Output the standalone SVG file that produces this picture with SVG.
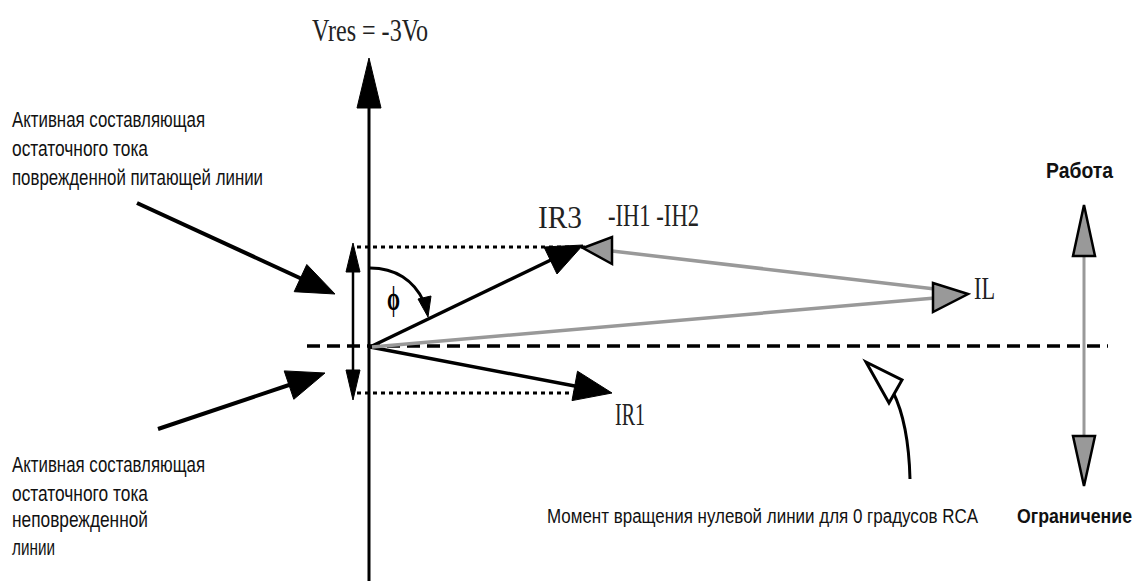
<svg xmlns="http://www.w3.org/2000/svg" width="1136" height="581" viewBox="0 0 1136 581">
<style>
.serif{font-family:"Liberation Serif","Times New Roman",serif;font-size:32px;fill:#222}
.sans{font-family:"Liberation Sans",Arial,sans-serif;font-size:17px;fill:#111}
.bold{font-weight:bold}
.blk{stroke:#000;fill:none;stroke-width:3.5}
.gry{stroke:#999;fill:none;stroke-width:3.5}
.head{fill:#000;stroke:#000;stroke-width:1}
.ghead{fill:#999;stroke:#000;stroke-width:2.5;stroke-linejoin:miter}
.dash{stroke:#000;stroke-width:3.5;stroke-dasharray:13 7;fill:none}
.dot{stroke:#000;stroke-width:3;stroke-dasharray:4 4;fill:none}
</style>
<rect width="1136" height="581" fill="#fff"/>

<g id="connectors">
  <line class="dash" x1="307" y1="346" x2="1108" y2="346"/>
  <line class="dot" x1="357" y1="247" x2="592" y2="247"/>
  <line class="dot" x1="357" y1="393" x2="576" y2="393"/>
  <line class="blk" x1="369" y1="100" x2="369" y2="581" style="stroke-width:3"/>
  <polygon class="head" points="369,58 357,108 381,108"/>
  <line class="blk" x1="353" y1="266" x2="353" y2="376" style="stroke-width:2.5"/>
  <polygon class="head" points="353,243 346,272 360,272"/>
  <polygon class="head" points="353,400 346,370 360,370"/>
  <line class="blk" x1="370" y1="347" x2="555" y2="258"/>
  <polygon class="head" points="583,245 557,274 544,247"/>
  <line class="blk" x1="370" y1="347" x2="580" y2="387"/>
  <polygon class="head" points="612,393 572,400.6 577.5,371.2"/>
  <line class="gry" x1="372" y1="347" x2="935" y2="298"/>
  <line class="gry" x1="612" y1="251" x2="935" y2="289"/>
  <polygon class="ghead" points="583,248 612,237 612,264"/>
  <polygon class="ghead" points="968,294 933,283 933,312"/>
  <path class="blk" d="M370,268 C395,268 414,280 424,302" style="stroke-width:3"/>
  <polygon class="head" points="428,317 418,299 431,296"/>
  <line class="blk" x1="137" y1="203" x2="302" y2="279" style="stroke-width:4"/>
  <polygon class="head" points="335,294 294.2,291.7 306.8,264.5"/>
  <line class="blk" x1="158" y1="429" x2="292" y2="384" style="stroke-width:4"/>
  <polygon class="head" points="325,373 293.8,399.3 284.2,370.9"/>
  <path class="blk" d="M910,479 C909,440 903,412 893,392" style="stroke-width:3"/>
  <polygon points="866,362 902,380 889,403" fill="#fff" stroke="#000" stroke-width="3"/>
  <line class="gry" x1="1084" y1="256" x2="1084" y2="436" style="stroke-width:3"/>
  <polygon class="ghead" points="1084,205 1073,256 1095,256"/>
  <polygon class="ghead" points="1084,486 1073,436 1095,436"/>
</g>

<g id="vres"><text class="serif" transform="translate(312,41) scale(1,1.2)" style="font-size:27px" textLength="116" lengthAdjust="spacingAndGlyphs">Vres = -3Vo</text></g>
<g id="ir3"><text class="serif" transform="translate(538,228) scale(1,1.3)" style="font-size:24px" textLength="44" lengthAdjust="spacingAndGlyphs">IR3</text></g>
<g id="ih"><text class="serif" transform="translate(608,226) scale(1,1.3)" style="font-size:24px" textLength="91" lengthAdjust="spacingAndGlyphs">-IH1 -IH2</text></g>
<g id="il"><text class="serif" transform="translate(974,299) scale(1,1.3)" style="font-size:24px" textLength="21" lengthAdjust="spacingAndGlyphs">IL</text></g>
<g id="ir1"><text class="serif" transform="translate(615,425) scale(1,1.3)" style="font-size:24px" textLength="30" lengthAdjust="spacingAndGlyphs">IR1</text></g>
<g id="phi"><text class="serif bold" x="387" y="310" style="font-size:34px;fill:#000" textLength="13" lengthAdjust="spacingAndGlyphs">ϕ</text></g>

<g id="label-faulted">
  <text class="sans" transform="translate(12,127) scale(1,1.25)" textLength="193" lengthAdjust="spacingAndGlyphs">Активная составляющая</text>
  <text class="sans" transform="translate(12,156) scale(1,1.25)" textLength="136" lengthAdjust="spacingAndGlyphs">остаточного тока</text>
  <text class="sans" transform="translate(12,185) scale(1,1.25)" textLength="251" lengthAdjust="spacingAndGlyphs">поврежденной питающей линии</text>
</g>
<g id="label-healthy">
  <text class="sans" transform="translate(12,472) scale(1,1.25)" textLength="193" lengthAdjust="spacingAndGlyphs">Активная составляющая</text>
  <text class="sans" transform="translate(12,501) scale(1,1.25)" textLength="136" lengthAdjust="spacingAndGlyphs">остаточного тока</text>
  <text class="sans" transform="translate(12,527) scale(1,1.25)" textLength="136" lengthAdjust="spacingAndGlyphs">неповрежденной</text>
  <text class="sans" transform="translate(12,555) scale(1,1.25)" textLength="43" lengthAdjust="spacingAndGlyphs">линии</text>
</g>
<g id="label-rotation"><text class="sans" transform="translate(547,523) scale(1,1.3)" style="font-size:16px" textLength="431" lengthAdjust="spacingAndGlyphs">Момент вращения нулевой линии для 0 градусов RCA</text></g>
<g id="label-operate"><text class="sans bold" transform="translate(1046,178) scale(1,1.3)" style="font-size:17px" textLength="67" lengthAdjust="spacingAndGlyphs">Работа</text></g>
<g id="label-restrain"><text class="sans bold" transform="translate(1017,523) scale(1,1.35)" style="font-size:15px" textLength="115" lengthAdjust="spacingAndGlyphs">Ограничение</text></g>
</svg>
